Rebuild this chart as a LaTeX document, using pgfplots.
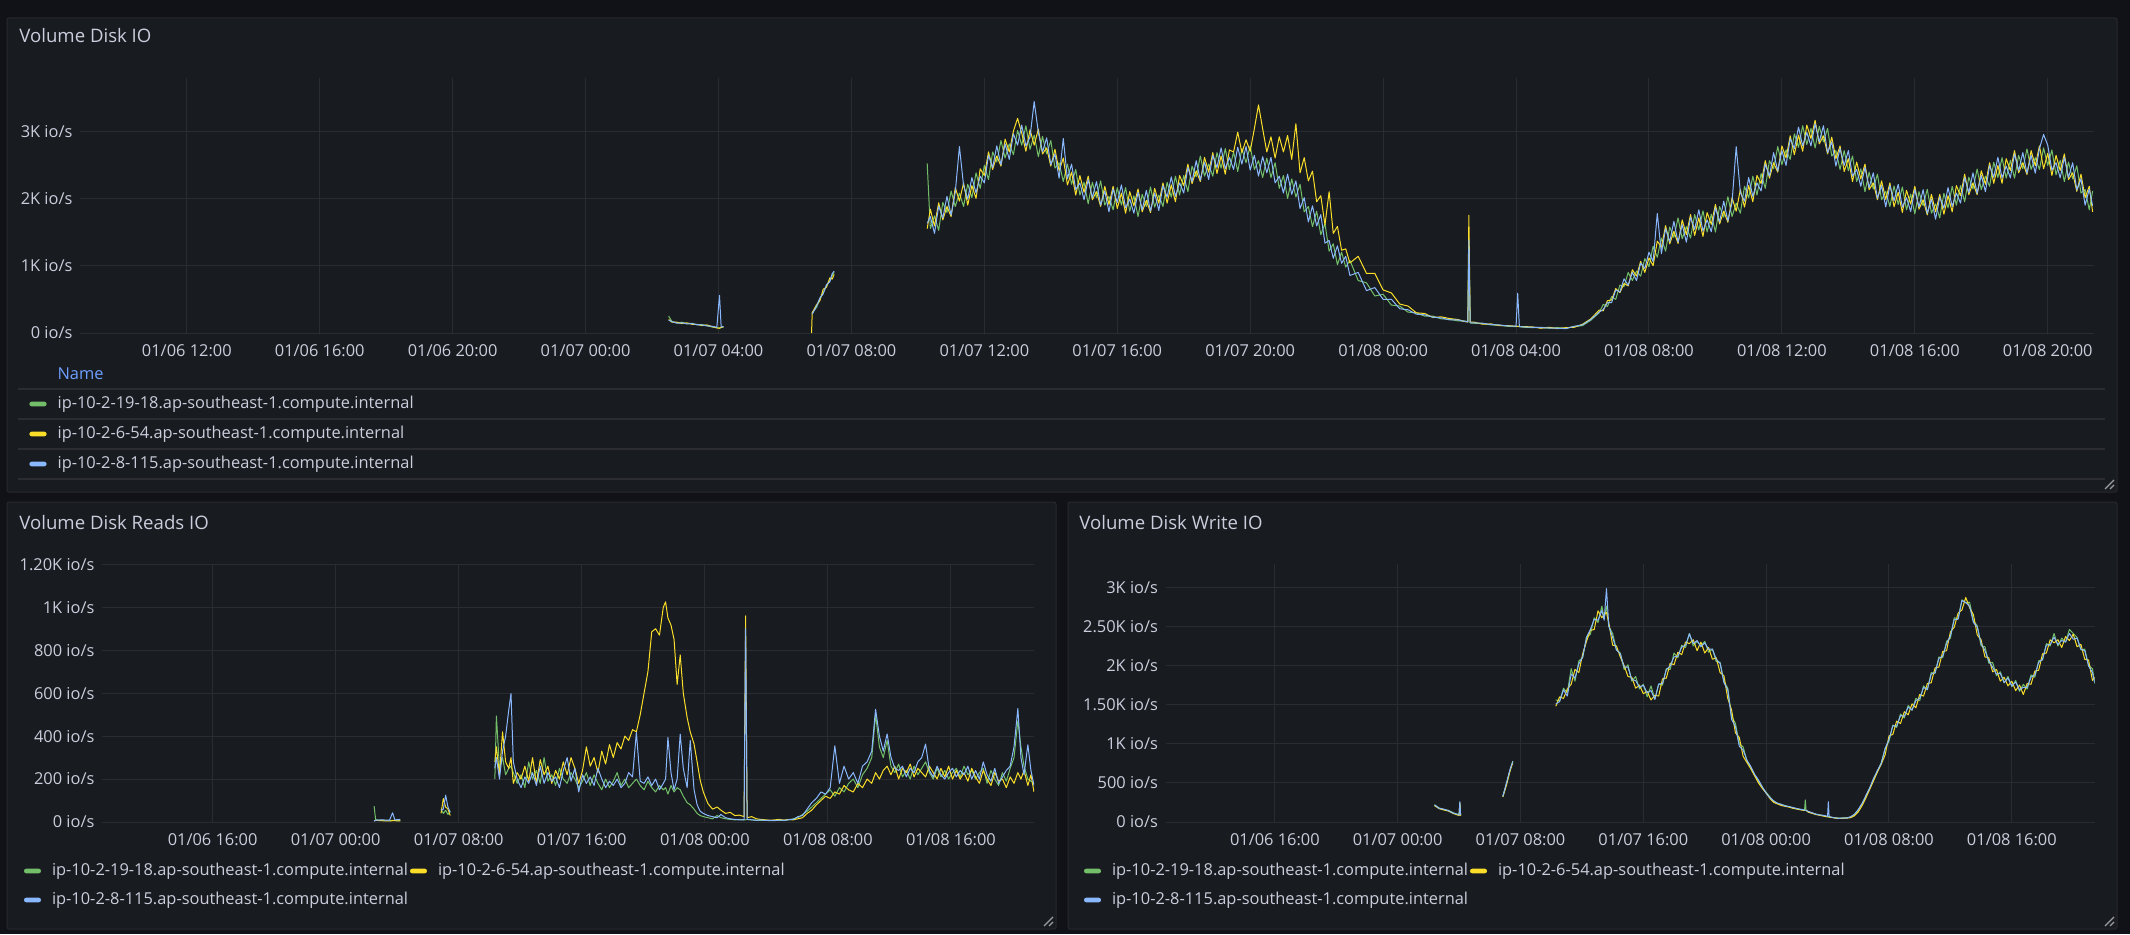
\documentclass[border=0pt]{standalone}
\usepackage{fontspec}
\setmainfont{Open Sans}
\usepackage{pgfplots}
\usepackage{pgfplotstable}
\pgfplotsset{compat=1.18}

\definecolor{pagebg}{HTML}{111217}
\definecolor{panelbg}{HTML}{181B1F}
\definecolor{panelborder}{HTML}{26282D}
\definecolor{gridc}{HTML}{2A2C31}
\definecolor{txt}{HTML}{CCCCDC}
\definecolor{namec}{HTML}{6E9FFF}
\definecolor{sgreen}{HTML}{73BF69}
\definecolor{syellow}{HTML}{FADE2A}
\definecolor{sblue}{HTML}{8AB8FF}

\newcommand{\tickfont}{\fontsize{8.2}{10}\selectfont}
\newcommand{\titlefont}{\fontsize{9.3}{11}\selectfont}

% Total IO per node (io/s), hours since 01/06 00:00
\pgfplotstableread{
h g y b
26.50 250 200 190
26.60 170 160 170
26.75 150 160 145
26.90 160 140 150
27.05 140 150 135
27.20 145 130 140
27.35 120 130 125
27.50 125 110 120
27.65 110 120 105
27.80 90 95 100
27.95 80 75 85
28.03 75 70 560
28.08 80 85 90
28.15 95 90 95
28.20 nan nan nan
30.80 nan 0 nan
30.82 300 300 280
30.95 380 420 400
31.05 500 480 520
31.15 600 650 580
31.25 700 680 720
31.35 780 820 760
31.42 850 800 880
31.48 900 870 920
31.55 nan nan nan
34.28 2520 1550 1630
34.375 1550 1840 1730
34.500 1740 1590 1480
34.625 1525 1935 1885
34.750 1940 1680 1710
34.875 1790 1880 2030
35.000 2110 1730 1750
35.125 1880 2160 2090
35.250 2080 1960 2770
35.375 1880 2230 2190
35.500 2210 1900 1990
35.625 2010 2190 2310
35.750 2380 2000 2080
35.875 2150 2440 2330
36.000 2490 2340 2230
36.125 2280 2690 2640
36.250 2690 2430 2460
36.375 2540 2630 2780
36.500 2860 2480 2500
36.625 2600 2880 2810
36.750 2810 2690 2580
36.875 2650 3000 2960
37.000 3010 3190 2790
37.125 2790 2970 3090
37.250 3080 2700 2780
37.375 2730 3020 2910
37.500 2940 2790 3440
37.625 2620 3030 2980
37.750 2920 2660 2690
37.875 2660 2750 2900
38.000 2860 2480 2500
38.125 2450 2730 2660
38.250 2530 2410 2300
38.375 2250 2600 2890
38.500 2510 2200 2290
38.625 2210 2390 2510
38.750 2430 2050 2130
38.875 2050 2340 2230
39.000 2240 2090 1980
39.125 1920 2330 2280
39.250 2240 1980 2010
39.375 2010 2100 2250
39.500 2260 1880 1900
39.625 1900 2180 2110
39.750 2030 1910 1800
39.875 1830 2180 2140
40.000 2160 1850 1940
40.125 1900 2080 2200
40.250 2160 1780 1860
40.375 1810 2100 1990
40.500 2040 1890 1780
40.625 1730 2140 2090
40.750 2060 1800 1830
40.875 1880 1970 2120
41.000 2170 1790 1810
41.125 1870 2150 2080
41.250 2050 1930 1820
41.375 1880 2230 2190
41.500 2240 1930 2020
41.625 2020 2200 2320
41.750 2330 1950 2030
41.875 2050 2340 2230
42.000 2340 2190 2080
42.125 2100 2510 2460
42.250 2480 2220 2250
42.375 2320 2410 2560
42.500 2630 2250 2270
42.625 2330 2610 2540
42.750 2510 2390 2280
42.875 2330 2680 2640
43.000 2680 2370 2460
43.125 2450 2630 2750
43.250 2740 2360 2440
43.375 2430 2720 2610
43.500 2690 2690 2430
43.625 2400 2985 2760
43.750 2740 2680 2510
43.875 2530 2870 2770
44.000 2780 2700 2420
44.125 2430 3035 2640
44.250 2560 3390 2330
44.375 2310 3035 2620
44.500 2600 2690 2380
44.625 2310 2915 2610
44.750 2530 2600 2230
44.875 2150 2915 2330
45.000 2340 2690 2080
45.125 2000 2935 2360
45.250 2290 2580 2060
45.375 2020 3110 2260
45.500 2210 2380 1850
45.625 1800 2605 2010
45.750 1880 2260 1650
45.875 1580 2405 1890
46.000 1810 1950 1590
46.125 1460 2040 1760
46.250 1625 1605 1335
46.375 1215 2100 1375
46.500 1325 1480 1110
46.625 1015 1585 1295
46.750 1200 1230 1035
46.875 980 1250 1140
47.000 1080 1040 855
47.25 780 1140 900
47.50 745 885 630
47.75 550 885 675
48.00 575 640 500
48.25 415 595 500
48.50 400 430 360
48.75 310 400 345
49.00 300 300 280
49.25 250 290 270
49.50 250 230 235
49.75 210 240 225
50.00 205 215 195
50.25 180 200 195
50.50 175 165 170
50.55 165 165 165
50.58 1400 1750 1380
50.62 150 160 150
50.75 145 160 150
51.00 140 130 145
51.25 120 135 125
51.50 115 110 120
51.75 100 110 105
52.00 95 100 100
52.05 100 100 590
52.10 95 95 95
52.25 85 95 90
52.50 80 90 85
52.75 85 70 80
53.00 70 85 75
53.25 80 65 70
53.50 70 80 65
53.75 95 85 100
54.00 110 130 120
54.25 190 210 200
54.50 300 340 310
54.625 425 330 350
54.750 395 480 450
54.875 540 490 450
55.000 500 660 640
55.125 710 600 610
55.250 690 735 805
55.375 900 700 710
55.500 780 940 900
55.625 920 845 780
55.750 845 1065 1040
55.875 1105 900 960
56.000 985 1115 1200
56.125 1290 1000 1060
56.250 1125 1365 1775
56.375 1410 1275 1180
56.500 1215 1595 1550
56.625 1575 1325 1355
56.750 1420 1510 1660
56.875 1710 1330 1350
57.000 1400 1680 1610
57.125 1580 1460 1350
57.250 1410 1760 1720
57.375 1760 1450 1540
57.500 1530 1710 1830
57.625 1815 1435 1515
57.750 1500 1790 1680
57.875 1765 1615 1505
58.000 1500 1910 1860
58.125 1880 1620 1650
58.250 1720 1810 1960
58.375 2025 1645 1665
58.500 1730 2010 1940
58.625 1930 1810 2770
58.750 1780 2130 2090
58.875 2180 1870 1960
59.000 2010 2190 2310
59.125 2330 1950 2030
59.250 2050 2340 2230
59.375 2370 2220 2110
59.500 2150 2560 2510
59.625 2560 2300 2330
59.750 2440 2530 2680
59.875 2770 2390 2410
60.000 2500 2780 2710
60.125 2720 2600 2490
60.250 2580 2930 2890
60.375 2960 2650 2740
60.500 2760 2940 3060
60.625 3080 2700 2780
60.750 2800 3090 2980
60.875 3040 2890 2780
61.000 2750 3160 3110
61.125 3070 2810 2840
61.250 2840 2930 3080
61.375 3040 2660 2680
61.500 2630 2910 2840
61.625 2710 2590 2480
61.750 2430 2780 2740
61.875 2710 2400 2490
62.000 2410 2590 2710
62.125 2630 2250 2330
62.250 2250 2540 2430
62.375 2440 2290 2180
62.500 2100 2510 2460
62.625 2390 2130 2160
62.750 2140 2230 2380
62.875 2360 1980 2000
63.000 1980 2260 2190
63.125 2105 1985 1875
63.250 1880 2230 2190
63.375 2185 1875 1965
63.500 1910 2090 2210
63.625 2170 1790 1870
63.750 1830 2120 2010
63.875 2065 1915 1805
64.000 1770 2180 2130
64.125 2100 1840 1870
64.250 1890 1980 2130
64.375 2135 1755 1775
64.500 1780 2060 1990
64.625 1920 1800 1690
64.750 1710 2060 2020
64.875 2075 1765 1855
65.000 1860 2040 2160
65.125 2180 1800 1880
65.250 1900 2190 2080
65.375 2190 2040 1930
65.500 1950 2360 2310
65.625 2315 2055 2085
65.750 2140 2230 2380
65.875 2435 2055 2075
66.000 2130 2410 2340
66.125 2330 2210 2100
66.250 2180 2530 2490
66.375 2535 2225 2315
66.500 2310 2490 2610
66.625 2605 2225 2305
66.750 2300 2590 2480
66.875 2565 2415 2305
67.000 2300 2710 2660
67.125 2640 2380 2410
67.250 2440 2530 2680
67.375 2735 2355 2375
67.500 2430 2710 2640
67.625 2605 2485 2375
67.750 2430 2780 2740
67.875 2750 2440 2950
68.000 2490 2670 2790
68.125 2720 2340 2420
68.250 2350 2640 2530
68.375 2565 2415 2305
68.500 2250 2660 2610
68.625 2540 2280 2310
68.750 2290 2380 2530
68.875 2485 2105 2125
69.000 2080 2360 2290
69.125 2130 2010 1900
69.250 1830 2180 2140
69.350 2110 1800 1890
}\totalio

% Read IO per node (io/s)
\pgfplotstableread{
h g y b
26.50 74 5 5
26.60 10 8 8
27.00 8 6 10
27.50 6 5 8
27.70 8 6 43
27.85 8 6 10
28.20 6 5 12
28.30 nan nan nan
30.85 60 40 55
31.00 40 109 60
31.15 55 70 125
31.30 35 60 70
31.45 50 30 45
31.55 nan nan nan
34.35 200 280 250
34.45 494 350 300
34.65 250 220 200
34.85 300 420 330
35.05 220 280 400
35.25 250 250 520
35.40 260 300 598
35.55 230 180 280
35.80 180 230 200
36.05 220 200 160
36.30 160 260 210
36.55 280 190 180
36.80 200 300 230
37.05 240 180 170
37.30 180 290 260
37.55 300 220 180
37.80 190 260 230
38.05 220 180 190
38.30 170 240 210
38.55 250 200 160
38.80 200 280 240
39.05 180 220 300
39.30 230 300 190
39.55 200 250 250
39.80 160 180 140
40.05 190 240 220
40.30 230 350 180
40.55 170 260 210
40.80 220 300 170
41.05 180 230 250
41.30 150 330 200
41.55 200 270 160
41.80 160 360 190
42.05 190 300 170
42.30 230 370 200
42.55 170 340 160
42.80 200 400 180
43.05 160 380 230
43.30 180 430 210
43.55 200 420 417
43.80 170 500 190
44.05 150 600 180
44.30 190 700 210
44.55 160 886 170
44.80 140 900 200
45.05 170 870 150
45.30 150 1000 180
45.45 160 1025 200
45.60 130 950 394
45.80 170 917 230
46.00 140 850 150
46.20 160 640 200
46.40 150 778 409
46.60 120 600 250
46.85 90 486 160
47.05 80 420 380
47.30 60 363 150
47.50 40 280 80
47.70 30 194 50
47.90 25 140 40
48.20 20 86 30
48.50 15 60 25
48.80 30 70 20
49.05 20 55 35
49.35 15 40 20
49.65 12 45 15
49.95 10 30 12
50.25 12 32 10
50.55 10 25 10
50.65 10 960 900
50.75 12 20 12
51.05 10 25 10
51.35 8 15 8
51.65 7 12 10
51.95 8 10 7
52.25 6 8 8
52.55 8 10 6
52.85 7 12 9
53.15 9 8 7
53.45 10 12 11
53.75 15 10 12
54.05 20 15 25
54.35 35 20 30
54.65 50 40 60
54.95 70 55 90
55.25 90 80 110
55.55 110 100 140
55.85 130 120 130
56.15 150 110 160
56.45 120 140 355
56.75 160 130 180
57.05 140 170 260
57.35 180 150 200
57.65 200 140 230
57.95 160 180 180
58.25 220 160 260
58.55 250 200 280
58.85 300 180 330
59.10 500 230 525
59.35 350 200 400
59.60 300 240 330
59.85 380 260 410
60.10 260 220 302
60.35 230 260 250
60.60 270 200 240
60.85 210 250 260
61.10 240 230 210
61.35 200 270 250
61.60 260 210 230
61.85 220 250 280
62.10 250 230 300
62.35 280 210 363
62.60 230 260 240
62.85 200 230 210
63.10 250 200 260
63.35 210 250 220
63.60 240 210 200
63.85 200 260 230
64.10 230 200 250
64.35 250 240 210
64.60 210 200 240
64.85 260 230 220
65.10 220 190 260
65.35 240 250 200
65.60 200 210 240
65.85 230 180 200
66.10 250 240 280
66.35 180 200 220
66.60 240 170 190
66.85 200 230 250
67.10 170 190 180
67.35 230 200 210
67.60 190 160 240
67.85 250 210 260
68.10 300 180 350
68.35 471 230 529
68.55 350 200 300
68.75 260 240 220
69.00 200 170 360
69.20 190 220 240
69.40 180 140 170
}\readio

% Write IO per node (io/s)
\pgfplotstableread{
h g y b
26.40 218 210 220
26.70 180 170 175
27.00 160 154 165
27.30 150 140 145
27.60 120 110 115
27.90 95 90 100
28.00 80 85 90
28.05 250 240 260
28.10 85 80 90
28.20 nan nan nan
30.85 330 320 325
31.10 500 480 510
31.30 650 640 660
31.50 780 760 774
31.60 nan nan nan
34.30 1560 1480 1509
34.55 1550 1600 1540
34.80 1710 1580 1690
35.05 1650 1700 1610
35.30 1960 1760 1893
35.55 1800 1950 1840
35.80 2060 1910 2021
36.05 2100 2150 2110
36.30 2360 2310 2363
36.55 2400 2450 2460
36.80 2610 2460 2590
37.05 2550 2700 2580
37.30 2760 2610 2705
37.45 2600 2650 2580
37.60 2760 2680 2983
37.75 2500 2550 2507
38.00 2410 2260 2360
38.25 2200 2250 2200
38.50 2160 2110 2150
38.75 1950 2000 1980
39.00 2010 1860 1979
39.25 1800 1850 1820
39.50 1860 1710 1808
39.75 1700 1750 1720
40.00 1760 1640 1750
40.25 1600 1670 1652
40.50 1740 1560 1680
40.75 1570 1620 1567
41.00 1760 1610 1765
41.25 1750 1830 1770
41.50 1960 1840 1950
41.75 1950 2030 1994
42.00 2160 2010 2110
42.25 2100 2170 2120
42.50 2260 2140 2235
42.75 2230 2300 2260
43.00 2410 2280 2406
43.25 2250 2330 2280
43.50 2310 2190 2320
43.75 2250 2300 2240
44.00 2310 2160 2290
44.25 2170 2230 2208
44.50 2210 2080 2210
44.75 2050 2100 2080
45.00 2040 1910 2030
45.25 1800 1870 1781
45.50 1710 1580 1690
45.75 1350 1430 1310
46.00 1260 1140 1220
46.25 1000 1080 969
46.50 960 840 920
46.75 780 760 790
47.00 700 680 709
47.25 600 590 610
47.50 520 500 538
47.75 440 430 450
48.00 380 370 368
48.25 320 300 310
48.50 260 250 270
48.75 240 230 239
49.00 220 210 225
49.25 210 200 205
49.50 195 190 197
49.75 180 175 185
50.00 170 165 172
50.25 160 155 162
50.50 150 148 154
50.55 282 150 150
50.60 150 148 150
50.75 130 125 135
51.00 115 110 118
51.25 100 95 100
51.50 90 85 90
51.75 80 75 85
52.00 70 65 72
52.05 70 65 260
52.10 68 62 70
52.25 60 58 62
52.50 55 50 52
52.75 50 45 47
53.00 50 48 52
53.25 55 50 50
53.50 60 55 68
53.75 90 80 100
54.00 150 130 160
54.25 230 210 239
54.50 330 310 340
54.75 430 420 440
55.00 550 530 560
55.25 650 640 660
55.50 760 740 750
55.75 940 860 940
56.00 1030 1100 1054
56.25 1240 1120 1230
56.50 1210 1290 1225
56.75 1380 1260 1360
57.00 1330 1410 1353
57.25 1490 1370 1470
57.50 1430 1510 1430
57.75 1580 1460 1551
58.00 1550 1630 1580
58.25 1740 1610 1720
58.50 1690 1770 1695
58.75 1910 1780 1890
59.00 1900 1970 1909
59.25 2110 1980 2090
59.50 2100 2180 2120
59.75 2310 2190 2278
60.00 2350 2430 2380
60.25 2610 2490 2590
60.50 2600 2670 2592
60.75 2840 2710 2830
61.00 2800 2870 2806
61.25 2810 2740 2760
61.50 2570 2650 2550
61.75 2510 2390 2490
62.00 2250 2330 2280
62.25 2240 2110 2192
62.50 2030 2100 2060
62.75 2040 1920 1979
63.00 1870 1950 1890
63.25 1920 1800 1900
63.50 1780 1850 1781
63.75 1860 1740 1840
64.00 1730 1800 1738
64.25 1810 1680 1790
64.50 1670 1750 1690
64.75 1760 1630 1722
65.00 1700 1770 1720
65.25 1880 1760 1851
65.50 1850 1930 1880
65.75 2060 1940 2040
66.00 2070 2150 2080
66.25 2280 2160 2260
66.50 2250 2330 2270
66.75 2410 2290 2363
67.00 2250 2330 2270
67.25 2350 2230 2320
67.50 2300 2370 2300
67.75 2460 2320 2410
68.00 2410 2400 2336
68.25 2360 2240 2350
68.50 2200 2270 2208
68.75 2210 2080 2190
69.00 2000 2070 1994
69.25 1960 1810 1910
69.40 1770 1850 1781
}\writeio

\pgfplotsset{
  grafana/.style={
    scale only axis,
    anchor=south west,
    axis line style={draw=none},
    major tick length=0pt,
    xmajorgrids, ymajorgrids,
    major grid style={draw=gridc, line width=0.5pt},
    ymin=0,
    unbounded coords=jump,
    ticklabel style={font=\tickfont, text=txt, inner sep=0pt},
    xticklabel style={anchor=center, yshift=-8.8pt},
    yticklabel style={anchor=east, xshift=-3.6pt},
    every axis plot/.append style={line width=0.5pt, line join=round},
  },
}

\begin{document}
\begin{tikzpicture}
\path[use as bounding box] (0,0) rectangle (1065pt,467pt);
\fill[pagebg] (0,0) rectangle (1065pt,467pt);

% panels
\filldraw[fill=panelbg, draw=panelborder, line width=0.5pt, rounded corners=1pt]
  (3.5pt,221pt) rectangle (1058.5pt,458pt);
\filldraw[fill=panelbg, draw=panelborder, line width=0.5pt, rounded corners=1pt]
  (3.5pt,2.5pt) rectangle (528pt,216pt);
\filldraw[fill=panelbg, draw=panelborder, line width=0.5pt, rounded corners=1pt]
  (534pt,2.5pt) rectangle (1058.5pt,216pt);

% titles
\node[anchor=west, inner sep=0pt, text=txt, font=\titlefont] at (9.5pt,449pt) {Volume Disk IO};
\node[anchor=west, inner sep=0pt, text=txt, font=\titlefont] at (9.5pt,205.5pt) {Volume Disk Reads IO};
\node[anchor=west, inner sep=0pt, text=txt, font=\titlefont] at (539.5pt,205.5pt) {Volume Disk Write IO};

% total IO
\begin{axis}[grafana,
  at={(40pt,300.5pt)}, width=1007pt, height=127.5pt,
  xmin=8.786, xmax=69.39, ymax=3789,
  xtick={12,16,...,68},
  xticklabels={01/06 12:00,01/06 16:00,01/06 20:00,01/07 00:00,01/07 04:00,01/07 08:00,01/07 12:00,01/07 16:00,01/07 20:00,01/08 00:00,01/08 04:00,01/08 08:00,01/08 12:00,01/08 16:00,01/08 20:00},
  ytick={0,1000,2000,3000},
  yticklabels={0 io/s,1K io/s,2K io/s,3K io/s},
]
\addplot[sgreen] table[x=h, y=g] {\totalio};
\addplot[syellow] table[x=h, y=y] {\totalio};
\addplot[sblue] table[x=h, y=b] {\totalio};
\end{axis}

% read IO
\begin{axis}[grafana,
  at={(51pt,56pt)}, width=466pt, height=128.85pt,
  xmin=8.81, xmax=69.4, ymax=1200,
  xtick={16,24,...,64},
  xticklabels={01/06 16:00,01/07 00:00,01/07 08:00,01/07 16:00,01/08 00:00,01/08 08:00,01/08 16:00},
  ytick={0,200,...,1200},
  yticklabels={0 io/s,200 io/s,400 io/s,600 io/s,800 io/s,1K io/s,1.20K io/s},
]
\addplot[sgreen] table[x=h, y=g] {\readio};
\addplot[syellow] table[x=h, y=y] {\readio};
\addplot[sblue] table[x=h, y=b] {\readio};
\end{axis}

% write IO
\begin{axis}[grafana,
  at={(582.75pt,56pt)}, width=464.6pt, height=128.85pt,
  xmin=8.88, xmax=69.4, ymax=3294,
  xtick={16,24,...,64},
  xticklabels={01/06 16:00,01/07 00:00,01/07 08:00,01/07 16:00,01/08 00:00,01/08 08:00,01/08 16:00},
  ytick={0,500,...,3000},
  yticklabels={0 io/s,500 io/s,1K io/s,1.50K io/s,2K io/s,2.50K io/s,3K io/s},
]
\addplot[sgreen] table[x=h, y=g] {\writeio};
\addplot[syellow] table[x=h, y=y] {\writeio};
\addplot[sblue] table[x=h, y=b] {\writeio};
\end{axis}

% legend of the total IO panel
\node[anchor=west, inner sep=0pt, text=namec, font=\tickfont] at (28.6pt,280pt) {Name};
\foreach \yy in {272.5,257.5,242.5,227.5}
  \draw[gridc, line width=0.6pt] (9.2pt,\yy pt) -- (1052.5pt,\yy pt);
\foreach \yy/\cc/\nm in {265/sgreen/ip-10-2-19-18.ap-southeast-1.compute.internal,
                         250/syellow/ip-10-2-6-54.ap-southeast-1.compute.internal,
                         235/sblue/ip-10-2-8-115.ap-southeast-1.compute.internal}{
  \fill[\cc, rounded corners=1.1pt] (14.7pt,\yy pt-1.15pt) rectangle (23.3pt,\yy pt+1.15pt);
  \node[anchor=west, inner sep=0pt, text=txt, font=\tickfont] at (28.6pt,\yy pt) {\nm};
}

% legends of the lower panels
\foreach \x/\yy/\cc/\nm in {
   12/31.5/sgreen/ip-10-2-19-18.ap-southeast-1.compute.internal,
   205/31.5/syellow/ip-10-2-6-54.ap-southeast-1.compute.internal,
   12/17/sblue/ip-10-2-8-115.ap-southeast-1.compute.internal,
   542/31.5/sgreen/ip-10-2-19-18.ap-southeast-1.compute.internal,
   735/31.5/syellow/ip-10-2-6-54.ap-southeast-1.compute.internal,
   542/17/sblue/ip-10-2-8-115.ap-southeast-1.compute.internal}{
  \fill[\cc, rounded corners=1.1pt] (\x pt,\yy pt-1.15pt) rectangle (\x pt+8.5pt,\yy pt+1.15pt);
  \node[anchor=west, inner sep=0pt, text=txt, font=\tickfont] at (\x pt+13.8pt,\yy pt) {\nm};
}

% resize handles
\foreach \px/\py in {1058.5/221, 528/2.5, 1058.5/2.5}{
  \draw[gridc!70!txt!60, line width=0.6pt] (\px pt-6pt,\py pt+1.5pt) -- (\px pt-1.5pt,\py pt+6pt);
  \draw[gridc!70!txt!60, line width=0.6pt] (\px pt-3.5pt,\py pt+1.5pt) -- (\px pt-1.5pt,\py pt+3.5pt);
}
\end{tikzpicture}
\end{document}
